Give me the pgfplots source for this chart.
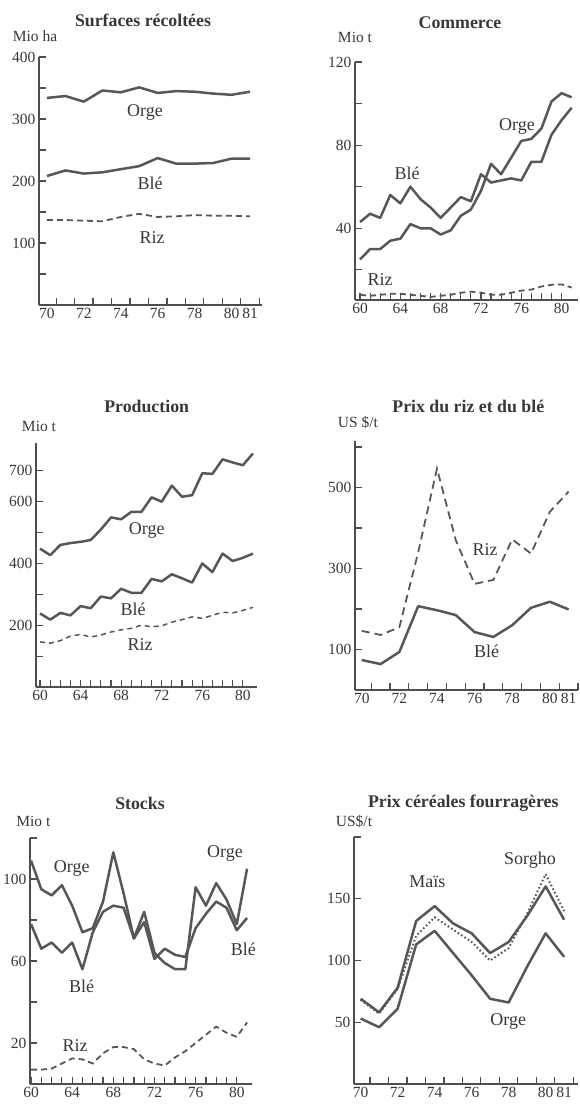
\documentclass[border=0pt]{standalone}
\usepackage{fontspec}
\setmainfont{Liberation Serif}
\usepackage{pgfplots}
\pgfplotsset{compat=1.18}
\definecolor{ink}{HTML}{575757}
\definecolor{axc}{HTML}{4E4E4E}
\definecolor{txt}{HTML}{383838}
\newcommand\tickfont{\fontsize{15.5}{15.5}\selectfont}
\newcommand\titlefont{\fontsize{17.8}{17.8}\bfseries\selectfont}
\newcommand\labfont{\fontsize{18}{18}\selectfont}
\newcommand\unitfont{\fontsize{15.5}{15.5}\selectfont}
\pgfplotsset{
  panel/.style={scale only axis, anchor=south west,
    axis x line*=bottom, axis y line*=left,
    axis line style={-, draw=axc, line width=1.6pt},
    tick align=inside,
    tick style={draw=axc, line width=1.2pt},
    major tick length=7pt, minor tick length=7pt,
    ticklabel style={font=\tickfont, text=txt},
    /pgf/number format/assume math mode=true,
    /pgf/number format/1000 sep={},
    clip=false},
  halfyears/.style={xtick={70.5,71.5,...,81.5}, xticklabels={},
    extra x ticks={70,72,74,76,78,80,81},
    extra x tick style={tick style={draw=none}}},
  fullyears/.style={xtick={60,64,...,80}, minor x tick num=3},
  solidl/.style={draw=ink, line width=2.5pt, line join=round},
  dashl/.style={draw=ink, line width=1.8pt, dash pattern=on 6pt off 4pt},
  dotl/.style={draw=ink, line width=2pt, dash pattern=on 1.6pt off 2.4pt},
}
\begin{document}
\begin{tikzpicture}[x=1pt,y=1pt]
\path[use as bounding box] (0pt,0pt) rectangle (579pt,1108pt);

% Panel 1: Surfaces récoltées
\begin{axis}[panel, halfyears, at={(39pt,803pt)}, width=223pt, height=248pt,
  xmin=69.57, xmax=81.65, ymin=0, ymax=400,
  ytick={100,200,300,400}, minor ytick={50,150,250,350}]
\addplot[solidl] coordinates {(70,334)(71,337)(72,328)(73,346)(74,343)(75,351)(76,342)(77,345)(78,344)(79,341)(80,339)(81,344)};
\addplot[solidl] coordinates {(70,208)(71,217)(72,212)(73,214)(74,219)(75,224)(76,237)(77,228)(78,228)(79,229)(80,236)(81,236)};
\addplot[dashl] coordinates {(70,137)(71,137)(72,136)(73,135)(74,142)(75,147)(76,142)(77,143)(78,145)(79,144)(80,144)(81,143)};
\end{axis}

% Panel 2: Commerce
\begin{axis}[panel, fullyears, at={(355pt,808pt)}, width=223pt, height=238pt,
  xmin=59.5, xmax=81.63, ymin=5.5, ymax=120,
  ytick={40,80,120}, minor ytick={20,60,100}]
\addplot[solidl] coordinates {(60,43)(61,47)(62,45)(63,56)(64,52)(65,60)(66,54)(67,50)(68,45)(69,50)(70,55)(71,53)(72,66)(73,62)(74,63)(75,64)(76,63)(77,72)(78,72)(79,85)(80,92)(81,98)};
\addplot[solidl] coordinates {(60,25)(61,30)(62,30)(63,34)(64,35)(65,42)(66,40)(67,40)(68,37)(69,39)(70,46)(71,49)(72,58)(73,71)(74,66)(75,74)(76,82)(77,83)(78,88)(79,101)(80,105)(81,103)};
\addplot[dashl] coordinates {(60,8)(61,7.5)(62,8)(63,8.5)(64,8.5)(65,8)(66,7.5)(67,7)(68,7.5)(69,8)(70,9)(71,9.5)(72,9)(73,8)(74,8)(75,9)(76,10)(77,10.5)(78,12)(79,12.8)(80,13)(81,11.5)};
\end{axis}

% Panel 3: Production
\begin{axis}[panel, fullyears, at={(36pt,421pt)}, width=221pt, height=244pt,
  xmin=59.6, xmax=81.4, ymin=0, ymax=790,
  ytick={200,400,600,700}, minor ytick={100,300,500}]
\addplot[solidl] coordinates {(60,448)(61,427)(62,460)(63,466)(64,470)(65,476)(66,510)(67,549)(68,543)(69,567)(70,567)(71,614)(72,600)(73,652)(74,616)(75,621)(76,692)(77,690)(78,737)(79,727)(80,718)(81,756)};
\addplot[solidl] coordinates {(60,238)(61,218)(62,240)(63,232)(64,262)(65,255)(66,293)(67,287)(68,318)(69,305)(70,305)(71,350)(72,342)(73,365)(74,352)(75,338)(76,400)(77,372)(78,432)(79,408)(80,418)(81,432)};
\addplot[dashl, line width=1.5pt, dash pattern=on 5pt off 4pt] coordinates {(60,146)(61,142)(62,150)(63,165)(64,170)(65,162)(66,168)(67,178)(68,185)(69,190)(70,200)(71,195)(72,198)(73,210)(74,218)(75,227)(76,222)(77,232)(78,242)(79,240)(80,248)(81,258)};
\end{axis}

% Panel 4: Prix du riz et du blé
\begin{axis}[panel, halfyears, at={(355pt,418pt)}, width=223pt, height=249pt,
  xmin=69.64, xmax=81.5, ymin=0, ymax=615,
  ytick={100,300,500}, minor ytick={200,400,600}]
\addplot[dashl, dash pattern=on 8pt off 5pt] coordinates {(70,146)(71,136)(72,155)(73,340)(74,547)(75,370)(76,262)(77,272)(78,372)(79,337)(80,440)(81,490)};
\addplot[solidl] coordinates {(70,74)(71,64)(72,94)(73,207)(74,197)(75,185)(76,143)(77,131)(78,160)(79,203)(80,218)(81,199)};
\end{axis}

% Panel 5: Stocks
\begin{axis}[panel, fullyears, at={(30pt,24pt)}, width=222pt, height=246pt,
  xmin=59.9, xmax=81.48, ymin=0, ymax=120,
  ytick={20,60,100}, minor ytick={40,80,120}]
\addplot[solidl] coordinates {(60,109)(61,95)(62,92)(63,97)(64,87)(65,74)(66,76)(67,89)(68,113)(69,93)(70,71)(71,84)(72,64)(73,59)(74,56)(75,56)(76,96)(77,87)(78,98)(79,90)(80,78)(81,105)};
\addplot[solidl] coordinates {(60,78)(61,66)(62,69)(63,64)(64,69)(65,56)(66,74)(67,84)(68,87)(69,86)(70,71)(71,79)(72,61)(73,66)(74,63)(75,62)(76,76)(77,83)(78,89)(79,86)(80,75)(81,81)};
\addplot[dashl] coordinates {(60,7)(61,7)(62,7.5)(63,10)(64,12.5)(65,12)(66,10)(67,15)(68,18)(69,18)(70,17)(71,12)(72,10)(73,9)(74,13)(75,16)(76,20)(77,24)(78,28)(79,25)(80,23)(81,30)};
\end{axis}

% Panel 6: Prix céréales fourragères
\begin{axis}[panel, halfyears, at={(354pt,24pt)}, width=224pt, height=247pt,
  xmin=69.64, xmax=81.75, ymin=0, ymax=200,
  ytick={50,100,150}, minor ytick={200}]
\addplot[solidl] coordinates {(70,69)(71,58)(72,78)(73,132)(74,144)(75,130)(76,122)(77,106)(78,115)(79,136)(80,160)(81,133)};
\addplot[dotl] coordinates {(70,68)(71,57)(72,77)(73,120)(74,135)(75,125)(76,115)(77,100)(78,110)(79,138)(80,170)(81,140)};
\addplot[solidl] coordinates {(70,53)(71,46)(72,61)(73,113)(74,124)(75,106)(76,88)(77,69)(78,66)(79,95)(80,122)(81,103)};
\end{axis}

% Titles
\begin{scope}[every node/.style={text=txt}]
\node[font=\titlefont] at (143pt,1088pt) {Surfaces récoltées};
\node[font=\titlefont] at (460pt,1085pt) {Commerce};
\node[font=\titlefont] at (146.7pt,701.3pt) {Production};
\node[font=\titlefont] at (468.3pt,701.3pt) {Prix du riz et du blé};
\node[font=\titlefont] at (140pt,304.7pt) {Stocks};
\node[font=\titlefont] at (463.3pt,304.7pt) {Prix céréales fourragères};
% units
\node[font=\unitfont] at (35pt,1071.3pt) {Mio ha};
\node[font=\unitfont] at (355pt,1070.3pt) {Mio t};
\node[font=\unitfont] at (39pt,681.3pt) {Mio t};
\node[font=\unitfont] at (358pt,685.3pt) {US \$/t};
\node[font=\unitfont] at (33.3pt,286.3pt) {Mio t};
\node[font=\unitfont] at (354pt,286.3pt) {US\$/t};
% series labels
\node[font=\labfont] at (145pt,996pt) {Orge};
\node[font=\labfont] at (150pt,925pt) {Blé};
\node[font=\labfont] at (152pt,870pt) {Riz};
\node[font=\labfont] at (407pt,935pt) {Blé};
\node[font=\labfont] at (517pt,982pt) {Orge};
\node[font=\labfont] at (380pt,828pt) {Riz};
\node[font=\labfont] at (146.7pt,578pt) {Orge};
\node[font=\labfont] at (133pt,499pt) {Blé};
\node[font=\labfont] at (140pt,463pt) {Riz};
\node[font=\labfont] at (485pt,558pt) {Riz};
\node[font=\labfont] at (486.7pt,456.3pt) {Blé};
\node[font=\labfont] at (71.7pt,239.7pt) {Orge};
\node[font=\labfont] at (81.7pt,121.3pt) {Blé};
\node[font=\labfont] at (225pt,254.7pt) {Orge};
\node[font=\labfont] at (243.3pt,158.7pt) {Blé};
\node[font=\labfont] at (75pt,62pt) {Riz};
\node[font=\labfont] at (427.3pt,226.3pt) {Maïs};
\node[font=\labfont] at (530pt,248pt) {Sorgho};
\node[font=\labfont] at (508.3pt,86.3pt) {Orge};
\end{scope}
\end{tikzpicture}
\end{document}
